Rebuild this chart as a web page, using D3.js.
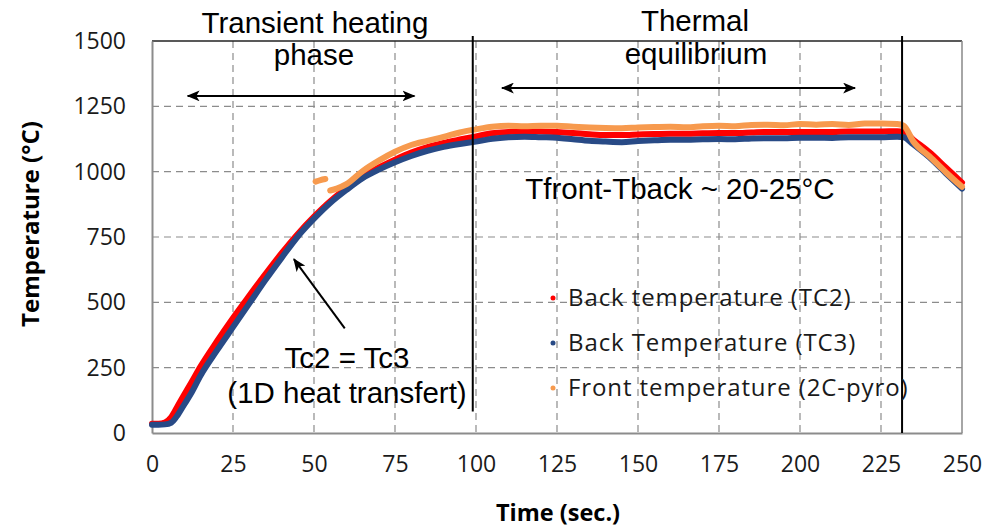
<!DOCTYPE html>
<html>
<head>
<meta charset="utf-8">
<script src="https://cdn.jsdelivr.net/npm/d3@7"></script>
<style>
  body { margin: 0; background: #fff; }
  svg { display: block; }
</style>
</head>
<body>
<div id="chart"></div>
<script>

// Time axis (sec.) shared by the two back thermocouples
var backTime = [0, 2, 4, 6, 8, 10, 12, 15, 20, 25, 30, 35, 40, 45, 50, 55, 60, 65, 70, 75, 80, 85, 90, 95,
                100, 105, 110, 115, 120, 125, 130, 135, 140, 145, 150, 155, 160, 165, 170, 175, 180, 185,
                190, 195, 200, 205, 210, 215, 220, 225, 230, 232, 235, 240, 245, 250];

// Back temperature (TC2), red
var tc2Temp = [35, 35, 40, 62, 105, 148, 190, 255, 350, 440, 525, 608, 688, 762, 828, 887, 937, 980, 1016, 1046,
               1073, 1094, 1110, 1123, 1135, 1147, 1152, 1155, 1154, 1152, 1148, 1143, 1140, 1140, 1142, 1144,
               1145, 1145, 1147, 1148, 1148, 1150, 1152, 1152, 1152, 1152, 1152, 1154, 1154, 1154, 1155, 1152,
               1122, 1074, 1016, 958];

// Back Temperature (TC3), blue
var tc3Temp = [32, 32, 33, 40, 70, 110, 150, 220, 315, 405, 495, 585, 670, 752, 820, 880, 930, 975, 1008, 1036,
               1060, 1080, 1095, 1106, 1115, 1126, 1132, 1134, 1132, 1130, 1124, 1118, 1115, 1113, 1117, 1120,
               1122, 1122, 1124, 1125, 1124, 1127, 1128, 1128, 1130, 1130, 1129, 1132, 1132, 1132, 1134, 1132,
               1104, 1054, 994, 935];

// Front temperature (2C-pyro), orange - starts late, null = gap
var frontTime = [50.5, 52, 53.5, 54, 55, 57, 60, 65, 70, 75, 80, 85, 90, 95, 100, 105, 110, 115, 120, 125, 130,
                 135, 140, 145, 150, 155, 160, 165, 170, 175, 180, 185, 190, 195, 200, 205, 210, 215, 220, 225,
                 230, 232, 235, 240, 245, 250];
var frontTemp = [962, 968, 972, null, 928, 935, 952, 1002, 1042, 1076, 1102, 1118, 1133, 1150, 1162, 1172, 1176,
                 1174, 1176, 1176, 1172, 1169, 1167, 1166, 1169, 1171, 1172, 1170, 1174, 1176, 1174, 1179, 1180,
                 1178, 1182, 1180, 1182, 1179, 1184, 1184, 1182, 1176, 1115, 1058, 998, 942];

var xTicks = [0, 25, 50, 75, 100, 125, 150, 175, 200, 225, 250];
var yTicks = [0, 250, 500, 750, 1000, 1250, 1500];

var seriesNames = ["Back temperature (TC2)", "Back Temperature (TC3)", "Front temperature (2C-pyro)"];
var seriesColors = ["#ff0000", "#284a86", "#f79a4e"];

// Phase limits (sec.)
var phaseEnds = [99, 231.5];

// Set width and height
var width = 990,
    height = 527;
var margin = {top: 41, right: 28, bottom: 94, left: 152};
var innerW = width - margin.left - margin.right,
    innerH = height - margin.top - margin.bottom;

var svg = d3.select("#chart")
            .append("svg")
              .attr("width", width)
              .attr("height", height);

var defs = svg.append("defs");
defs.append("marker")
    .attr("id", "head")
    .attr("viewBox", "0 0 12 10")
    .attr("refX", 11)
    .attr("refY", 5)
    .attr("markerWidth", 13)
    .attr("markerHeight", 11)
    .attr("markerUnits", "userSpaceOnUse")
    .attr("orient", "auto-start-reverse")
  .append("path")
    .attr("d", "M0,0 L12,5 L0,10 L3,5 Z")
    .attr("fill", "#000");

var g = svg.append("g")
           .attr("transform", "translate(" + margin.left + "," + margin.top + ")");

var x = d3.scaleLinear().domain([0, 250]).range([0, innerW]);
var y = d3.scaleLinear().domain([0, 1500]).range([innerH, 0]);

// Dashed grid
g.selectAll(".vgrid")
  .data(xTicks.slice(1, -1))
  .enter()
  .append("line")
    .attr("x1", function(d) { return x(d); })
    .attr("x2", function(d) { return x(d); })
    .attr("y1", 0)
    .attr("y2", innerH)
    .attr("stroke", "#8c8c8c")
    .attr("stroke-width", 1.2)
    .attr("stroke-dasharray", "7,5");

g.selectAll(".hgrid")
  .data(yTicks.slice(1, -1))
  .enter()
  .append("line")
    .attr("x1", 0)
    .attr("x2", innerW)
    .attr("y1", function(d) { return y(d); })
    .attr("y2", function(d) { return y(d); })
    .attr("stroke", "#8c8c8c")
    .attr("stroke-width", 1.2)
    .attr("stroke-dasharray", "7,5");

// Plot border
g.append("line").attr("x1", 0).attr("x2", innerW).attr("y1", 0).attr("y2", 0)
  .attr("stroke", "#222").attr("stroke-width", 1.5);
g.append("line").attr("x1", innerW).attr("x2", innerW).attr("y1", 0).attr("y2", innerH)
  .attr("stroke", "#888").attr("stroke-width", 1.5);

// Axes
var xAxis = g.append("g")
  .attr("transform", "translate(0," + innerH + ")")
  .call(d3.axisBottom(x).tickValues(xTicks).tickSize(0).tickPadding(23));
var yAxis = g.append("g")
  .call(d3.axisLeft(y).tickValues(yTicks).tickFormat(d3.format("d")).tickSize(0).tickPadding(26));

[xAxis, yAxis].forEach(function(a) {
  a.select(".domain").attr("stroke", "#8c8c8c").attr("stroke-width", 2);
  a.selectAll("text")
    .attr("fill", "#1a1a1a")
    .style("font-family", "'Open Sans', sans-serif")
    .style("font-size", "23px");
});

// Series
var data = [
  backTime.map(function(t, i) { return [t, tc2Temp[i]]; }),
  backTime.map(function(t, i) { return [t, tc3Temp[i]]; }),
  frontTime.map(function(t, i) { return [t, frontTemp[i]]; })
];

var line = d3.line()
  .defined(function(d) { return d[1] !== null; })
  .x(function(d) { return x(d[0]); })
  .y(function(d) { return y(d[1]); })
  .curve(d3.curveMonotoneX);

g.selectAll(".series")
  .data(data)
  .enter()
  .append("path")
    .attr("d", line)
    .attr("fill", "none")
    .attr("stroke", function(d, i) { return seriesColors[i]; })
    .attr("stroke-width", 6)
    .attr("stroke-linecap", "round")
    .attr("stroke-linejoin", "round");

// Phase separators
g.selectAll(".phase")
  .data(phaseEnds)
  .enter()
  .append("line")
    .attr("x1", function(d) { return x(d); })
    .attr("x2", function(d) { return x(d); })
    .attr("y1", -5)
    .attr("y2", function(d, i) { return i == 0 ? y(82) : innerH; })
    .attr("stroke", "#000")
    .attr("stroke-width", 2);

// Phase arrows
var arrows = [[11, 81, 1290], [108, 217, 1320]];
g.selectAll(".parrow")
  .data(arrows)
  .enter()
  .append("line")
    .attr("x1", function(d) { return x(d[0]); })
    .attr("x2", function(d) { return x(d[1]); })
    .attr("y1", function(d) { return y(d[2]); })
    .attr("y2", function(d) { return y(d[2]); })
    .attr("stroke", "#000")
    .attr("stroke-width", 2)
    .attr("marker-start", "url(#head)")
    .attr("marker-end", "url(#head)");

// Tc2 = Tc3 arrow
g.append("line")
  .attr("x1", x(59.5)).attr("y1", y(400))
  .attr("x2", x(43.8)).attr("y2", y(665))
  .attr("stroke", "#000")
  .attr("stroke-width", 2)
  .attr("marker-end", "url(#head)");

// Annotation texts
var notes = [
  {t: "Transient heating", x: 315, y: 33},
  {t: "phase", x: 314, y: 65},
  {t: "Thermal", x: 695, y: 31},
  {t: "equilibrium", x: 696, y: 64},
  {t: "Tfront-Tback ~ 20-25°C", x: 680, y: 199},
  {t: "Tc2 = Tc3", x: 347, y: 368},
  {t: "(1D heat transfert)", x: 347, y: 403}
];
svg.selectAll(".note")
  .data(notes)
  .enter()
  .append("text")
    .attr("x", function(d) { return d.x; })
    .attr("y", function(d) { return d.y; })
    .attr("text-anchor", "middle")
    .style("font-family", "'Liberation Sans', Arial, sans-serif")
    .style("font-size", "29.5px")
    .attr("fill", "#000")
    .text(function(d) { return d.t; });

// Legend
var legend = svg.append("g").attr("transform", "translate(553,298)");
var item = legend.selectAll(".item")
  .data(seriesNames)
  .enter()
  .append("g")
    .attr("transform", function(d, i) { return "translate(0," + i * 45 + ")"; });
item.append("circle")
  .attr("r", 2.5)
  .attr("fill", function(d, i) { return seriesColors[i]; });
item.append("text")
  .attr("x", 15)
  .attr("dy", "0.35em")
  .style("font-family", "'Open Sans', sans-serif")
  .style("font-size", "24px")
  .style("letter-spacing", "0.9px")
  .attr("fill", "#1a1a1a")
  .text(function(d) { return d; });

// Axis titles
svg.append("text")
  .attr("transform", "translate(39,224) rotate(-90)")
  .attr("text-anchor", "middle")
  .style("font-family", "'Open Sans', sans-serif")
  .style("font-weight", "bold")
  .style("font-size", "24px")
  .text("Temperature (°C)");

svg.append("text")
  .attr("x", 558)
  .attr("y", 521)
  .attr("text-anchor", "middle")
  .style("font-family", "'Open Sans', sans-serif")
  .style("font-weight", "bold")
  .style("font-size", "23.5px")
  .text("Time (sec.)");

</script>
</body>
</html>
